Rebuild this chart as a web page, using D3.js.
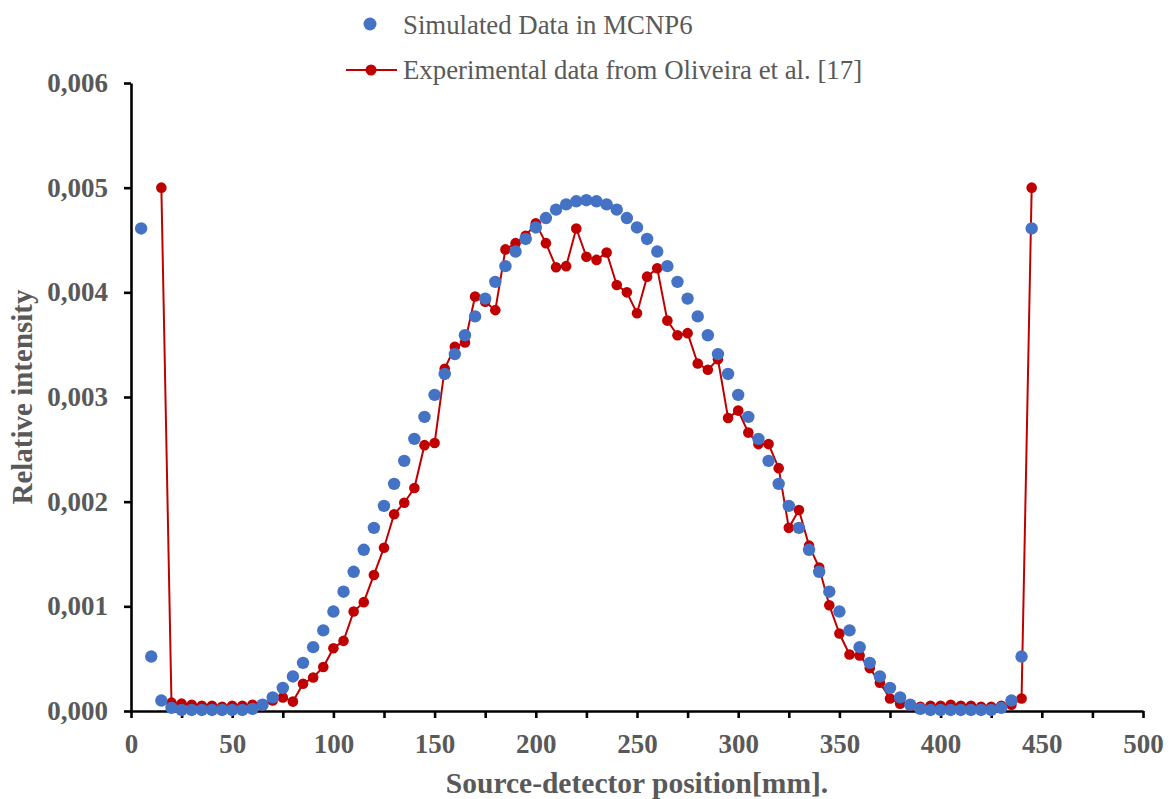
<!DOCTYPE html>
<html>
<head>
<meta charset="utf-8">
<script src="https://cdn.jsdelivr.net/npm/d3@7"></script>
<style>
  body { margin: 0; background: #fff; }
  svg { display: block; }
</style>
</head>
<body>
<svg id="chart"></svg>
<script>
// simulated data (MCNP6)
var simPos = [5, 10, 15, 20, 25, 30, 35, 40, 45, 50, 55, 60, 65, 70, 75, 80, 85, 90, 95, 100,
  105, 110, 115, 120, 125, 130, 135, 140, 145, 150, 155, 160, 165, 170, 175, 180, 185, 190, 195, 200,
  205, 210, 215, 220, 225, 230, 235, 240, 245, 250, 255, 260, 265, 270, 275, 280, 285, 290, 295, 300,
  305, 310, 315, 320, 325, 330, 335, 340, 345, 350, 355, 360, 365, 370, 375, 380, 385, 390, 395, 400,
  405, 410, 415, 420, 425, 430, 435, 440, 445];
var simVal = [0.00461, 0.00052, 0.00010, 0.00003, 0.00001, 0.00001, 0.00001, 0.00001, 0.00001, 0.00001,
  0.00001, 0.00002, 0.00006, 0.00013, 0.00022, 0.00033, 0.00046, 0.00061, 0.00077, 0.00095,
  0.00114, 0.00133, 0.00154, 0.00175, 0.00196, 0.00217, 0.00239, 0.00260, 0.00281, 0.00302,
  0.00322, 0.00341, 0.00359, 0.00377, 0.00394, 0.00410, 0.00425, 0.00439, 0.00451, 0.00462,
  0.00471, 0.00479, 0.00484, 0.00487, 0.00488, 0.00487, 0.00484, 0.00479, 0.00471, 0.00462,
  0.00451, 0.00439, 0.00425, 0.00410, 0.00394, 0.00377, 0.00359, 0.00341, 0.00322, 0.00302,
  0.00281, 0.00260, 0.00239, 0.00217, 0.00196, 0.00175, 0.00154, 0.00133, 0.00114, 0.00095,
  0.00077, 0.00061, 0.00046, 0.00033, 0.00022, 0.00013, 0.00006, 0.00002, 0.00001, 0.00001,
  0.00001, 0.00001, 0.00001, 0.00001, 0.00001, 0.00003, 0.00010, 0.00052, 0.00461];

// experimental data (Oliveira et al.)
var expPos = [15, 20, 25, 30, 35, 40, 45, 50, 55, 60, 65, 70, 75, 80, 85, 90, 95, 100,
  105, 110, 115, 120, 125, 130, 135, 140, 145, 150, 155, 160, 165, 170, 175, 180, 185, 190, 195, 200,
  205, 210, 215, 220, 225, 230, 235, 240, 245, 250, 255, 260, 265, 270, 275, 280, 285, 290, 295, 300,
  305, 310, 315, 320, 325, 330, 335, 340, 345, 350, 355, 360, 365, 370, 375, 380, 385, 390, 395, 400,
  405, 410, 415, 420, 425, 430, 435, 440, 445];
var expVal = [0.00500, 0.00008, 0.00007, 0.00006, 0.00005, 0.00005, 0.00004, 0.00005, 0.00005, 0.00006,
  0.00005, 0.00010, 0.00013, 0.00009, 0.00026, 0.00032, 0.00042, 0.00060,
  0.00067, 0.00095, 0.00104, 0.00130, 0.00156, 0.00188, 0.00199, 0.00213, 0.00254, 0.00256,
  0.00327, 0.00348, 0.00352, 0.00396, 0.00391, 0.00383, 0.00441, 0.00447, 0.00454, 0.00466,
  0.00447, 0.00424, 0.00425, 0.00461, 0.00434, 0.00431, 0.00438, 0.00407, 0.00400, 0.00380,
  0.00415, 0.00423, 0.00373, 0.00359, 0.00361, 0.00332, 0.00326, 0.00336, 0.00280, 0.00287,
  0.00266, 0.00255, 0.00255, 0.00232, 0.00175, 0.00192, 0.00158, 0.00137, 0.00101, 0.00074,
  0.00054, 0.00053, 0.00041, 0.00027, 0.00012, 0.00007, 0.00005, 0.00004, 0.00005, 0.00005,
  0.00006, 0.00005, 0.00005, 0.00004, 0.00004, 0.00005, 0.00006, 0.00012, 0.00500];

var xTicks = [0, 25, 50, 75, 100, 125, 150, 175, 200, 225, 250, 275, 300, 325, 350, 375, 400, 425, 450, 475, 500];
var yTicks = [0, 0.001, 0.002, 0.003, 0.004, 0.005, 0.006];

var width = 1169, height = 799;
var textColor = "#595959";
var serif = "'Liberation Serif', 'Times New Roman', serif";

var svg = d3.select("#chart")
    .attr("width", width)
    .attr("height", height);

var x = d3.scaleLinear().domain([0, 500]).range([131, 1143]);
var y = d3.scaleLinear().domain([0, 0.006]).range([711, 83]);

var simData = simPos.map((p, i) => ({x: p, y: simVal[i]}));
var expData = expPos.map((p, i) => ({x: p, y: expVal[i]}));

// axes
var xAxis = d3.axisBottom(x)
    .tickValues(xTicks)
    .tickSize(7)
    .tickSizeOuter(0)
    .tickFormat(d => d % 50 === 0 ? d : "");

var yAxis = d3.axisLeft(y)
    .tickValues(yTicks)
    .tickSize(7)
    .tickSizeOuter(0)
    .tickFormat(d => d3.format(".3f")(d).replace(".", ","));

var gx = svg.append("g")
    .attr("transform", "translate(0," + y(0) + ")")
    .call(xAxis);

var gy = svg.append("g")
    .attr("transform", "translate(" + x(0) + ",0)")
    .call(yAxis);

[gx, gy].forEach(g => {
    g.select(".domain").attr("stroke", "#000").attr("stroke-width", 2.6);
    g.selectAll(".tick line").attr("stroke", "#000").attr("stroke-width", 2.6);
    g.selectAll(".tick text")
        .attr("fill", textColor)
        .attr("font-family", serif)
        .attr("font-weight", "bold")
        .attr("font-size", "27px");
});
gx.selectAll(".tick text").attr("dy", "1.18em");
gy.selectAll(".tick text").attr("x", -23);

// experimental line + markers
var line = d3.line()
    .x(d => x(d.x))
    .y(d => y(d.y));

svg.append("path")
    .datum(expData)
    .attr("d", line)
    .attr("fill", "none")
    .attr("stroke", "#C00000")
    .attr("stroke-width", 2);

svg.append("g")
    .selectAll("circle")
    .data(expData)
    .enter()
    .append("circle")
    .attr("cx", d => x(d.x))
    .attr("cy", d => y(d.y))
    .attr("r", 5.3)
    .attr("fill", "#C00000");

// simulated markers
svg.append("g")
    .selectAll("circle")
    .data(simData)
    .enter()
    .append("circle")
    .attr("cx", d => x(d.x))
    .attr("cy", d => y(d.y))
    .attr("r", 6.2)
    .attr("fill", "#4472C4");

// axis titles
svg.append("text")
    .attr("x", (x(0) + x(500)) / 2)
    .attr("y", 793)
    .attr("text-anchor", "middle")
    .attr("fill", textColor)
    .attr("font-family", serif)
    .attr("font-weight", "bold")
    .attr("font-size", "29.5px")
    .text("Source-detector position[mm].");

svg.append("text")
    .attr("transform", "translate(32," + (y(0) + y(0.006)) / 2 + ") rotate(-90)")
    .attr("text-anchor", "middle")
    .attr("fill", textColor)
    .attr("font-family", serif)
    .attr("font-weight", "bold")
    .attr("font-size", "29px")
    .text("Relative intensity");

// legend
var legend = svg.append("g");
legend.append("circle")
    .attr("cx", 370).attr("cy", 24).attr("r", 6.5)
    .attr("fill", "#4472C4");
legend.append("text")
    .attr("x", 403).attr("y", 34)
    .attr("fill", textColor)
    .attr("font-family", serif)
    .attr("font-size", "26.8px")
    .text("Simulated Data in MCNP6");

legend.append("line")
    .attr("x1", 346).attr("x2", 397).attr("y1", 70).attr("y2", 70)
    .attr("stroke", "#C00000").attr("stroke-width", 2);
legend.append("circle")
    .attr("cx", 371).attr("cy", 70).attr("r", 5.5)
    .attr("fill", "#C00000");
legend.append("text")
    .attr("x", 403).attr("y", 79)
    .attr("fill", textColor)
    .attr("font-family", serif)
    .attr("font-size", "26.8px")
    .text("Experimental data from Oliveira et al. [17]");
</script>
</body>
</html>
